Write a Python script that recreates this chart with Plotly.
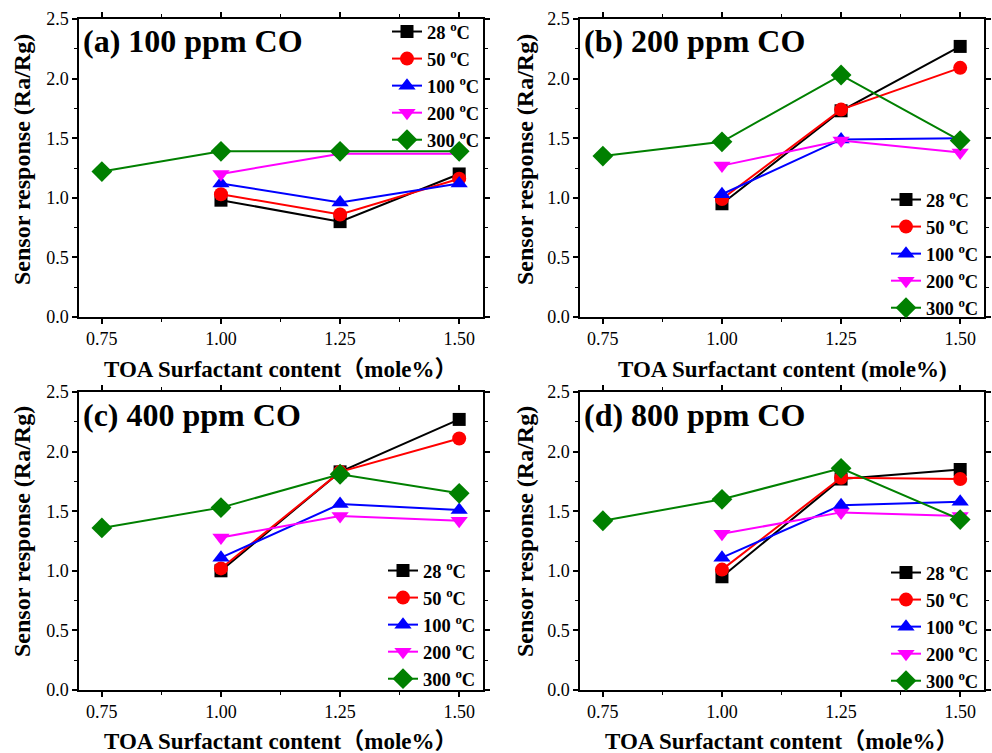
import plotly.graph_objects as go

# Surfactant content (mole%) for each sample
x_all = [0.75, 1.00, 1.25, 1.50]
x_sub = [1.00, 1.25, 1.50]

# Sensor response (Ra/Rg) per CO concentration and operating temperature
a_28 = [0.98, 0.80, 1.20]
a_50 = [1.03, 0.86, 1.16]
a_100 = [1.12, 0.96, 1.12]
a_200 = [1.20, 1.37, 1.37]
a_300 = [1.22, 1.39, 1.39, 1.39]

b_28 = [0.95, 1.73, 2.27]
b_50 = [0.99, 1.74, 2.09]
b_100 = [1.03, 1.49, 1.50]
b_200 = [1.27, 1.48, 1.38]
b_300 = [1.35, 1.47, 2.03, 1.48]

c_28 = [1.00, 1.83, 2.27]
c_50 = [1.02, 1.83, 2.11]
c_100 = [1.11, 1.56, 1.51]
c_200 = [1.28, 1.46, 1.42]
c_300 = [1.36, 1.53, 1.81, 1.65]

d_28 = [0.95, 1.77, 1.85]
d_50 = [1.01, 1.78, 1.77]
d_100 = [1.11, 1.55, 1.58]
d_200 = [1.31, 1.49, 1.46]
d_300 = [1.42, 1.60, 1.86, 1.43]

temp_labels = ["28 <sup>o</sup>C", "50 <sup>o</sup>C", "100 <sup>o</sup>C",
               "200 <sup>o</sup>C", "300 <sup>o</sup>C"]
panel_titles = ["(a) 100 ppm CO", "(b) 200 ppm CO", "(c) 400 ppm CO", "(d) 800 ppm CO"]
x_titles = ["TOA Surfactant content\uff08mole%\uff09",
            "TOA Surfactant content (mole%)",
            "TOA Surfactant content\uff08mole%\uff09",
            "TOA Surfactant content\uff08mole%\uff09"]
y_title = "Sensor response (Ra/Rg)"
x_ticks = [0.75, 1.00, 1.25, 1.50]
x_ticktext = ["0.75", "1.00", "1.25", "1.50"]

panels = [
    [a_28, a_50, a_100, a_200, a_300],
    [b_28, b_50, b_100, b_200, b_300],
    [c_28, c_50, c_100, c_200, c_300],
    [d_28, d_50, d_100, d_200, d_300],
]

colors = ["#000000", "#ff0000", "#0000ff", "#ff00ff", "#008000"]
symbols = ["square", "circle", "triangle-up", "triangle-down", "diamond"]
sizes = [13, 14, 15, 15, 16]

W, H = 992, 753
SERIF = "Liberation Serif"
SERIF_CJK = "Liberation Serif, Noto Sans CJK SC"

# plot-area boxes in pixels: (left, right, top, bottom)
boxes = [(79, 483, 19, 317), (580, 984, 19, 317),
         (79, 483, 392, 690), (580, 984, 392, 690)]
# legend anchor (left px, top px) for each panel
legend_pos = [(387, 13), (886, 181), (383, 552), (886, 554)]
title_pos = [(81, 41), (582, 41), (81, 415), (582, 415)]
ytitle_x = [22, 525, 22, 525]
ytitle_y = [160, 160, 532, 532]
xtitle_y = [369, 369, 741, 741]

fig = go.Figure()
layout = dict(
    width=W, height=H,
    margin=dict(l=0, r=0, t=0, b=0),
    paper_bgcolor="white", plot_bgcolor="white",
    font=dict(family=SERIF),
    annotations=[],
)

for p, series in enumerate(panels):
    n = p + 1
    xa = "x" if n == 1 else f"x{n}"
    ya = "y" if n == 1 else f"y{n}"
    lg = "legend" if n == 1 else f"legend{n}"
    for i, vals in enumerate(series):
        xs = x_all if len(vals) == 4 else x_sub
        fig.add_trace(go.Scatter(
            x=xs, y=vals, xaxis=xa, yaxis=ya, legend=lg,
            mode="lines+markers", name=temp_labels[i],
            line=dict(color=colors[i], width=2),
            marker=dict(symbol=symbols[i], size=sizes[i], color=colors[i],
                        line=dict(width=0)),
            showlegend=True,
        ))
    l, r, t, b = boxes[p]
    axis_common = dict(
        showline=True, linecolor="black", linewidth=1.5, mirror="ticks",
        ticks="outside", ticklen=5, tickwidth=1.5, tickcolor="black",
        showgrid=False, zeroline=False,
        tickfont=dict(family=SERIF, size=18, color="black"),
        automargin=False,
    )
    layout["xaxis" if n == 1 else f"xaxis{n}"] = dict(
        axis_common, domain=[l / W, r / W], anchor=ya,
        range=[0.702, 1.55], tickmode="array", tickvals=x_ticks, ticktext=x_ticktext,
        minor=dict(ticks="outside", ticklen=3, tickwidth=1.2, tickcolor="black",
                   tickmode="array", tickvals=[0.875, 1.125, 1.375]),
    )
    layout["yaxis" if n == 1 else f"yaxis{n}"] = dict(
        axis_common, domain=[1 - b / H, 1 - t / H], anchor=xa,
        range=[0, 2.5], tickmode="linear", tick0=0, dtick=0.5, tickformat=".1f",
        minor=dict(ticks="outside", ticklen=3, tickwidth=1.2, tickcolor="black",
                   dtick=0.25),
    )
    lx, ly = legend_pos[p]
    layout[lg] = dict(
        x=lx / W, y=1 - ly / H, xanchor="left", yanchor="top",
        bgcolor="rgba(0,0,0,0)", borderwidth=0,
        font=dict(family=SERIF, size=18.5, color="black", weight="bold"),
        tracegroupgap=0, itemsizing="trace",
    )
    tx, ty = title_pos[p]
    layout["annotations"].append(dict(
        text=f"<b>{panel_titles[p]}</b>", x=tx / W, y=1 - ty / H,
        xref="paper", yref="paper", xanchor="left", yanchor="middle",
        showarrow=False, font=dict(family=SERIF, size=32, color="black"),
    ))
    layout["annotations"].append(dict(
        text=f"<b>{y_title}</b>", x=ytitle_x[p] / W, y=1 - ytitle_y[p] / H,
        xref="paper", yref="paper", xanchor="center", yanchor="middle",
        textangle=-90, showarrow=False,
        font=dict(family=SERIF, size=24, color="black"),
    ))
    layout["annotations"].append(dict(
        text=f"<b>{x_titles[p]}</b>", x=(l + r) / 2 / W, y=1 - xtitle_y[p] / H,
        xref="paper", yref="paper", xanchor="center", yanchor="middle",
        showarrow=False, font=dict(family=SERIF_CJK, size=23, color="black"),
    ))

fig.update_layout(**layout)
fig.write_html("out.html")
